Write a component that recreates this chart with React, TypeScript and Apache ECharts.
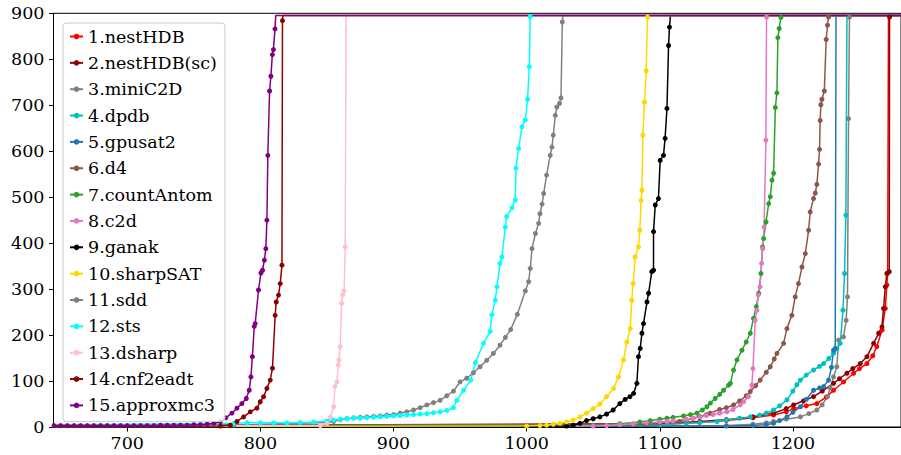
import React, { useEffect, useRef } from 'react';
import * as echarts from 'echarts';

const seriesNames = [
  '1.nestHDB', '2.nestHDB(sc)', '3.miniC2D', '4.dpdb', '5.gpusat2', '6.d4', '7.countAntom', '8.c2d',
  '9.ganak', '10.sharpSAT', '11.sdd', '12.sts', '13.dsharp', '14.cnf2eadt', '15.approxmc3',
];
const seriesColors = [
  '#ff0000', '#8b0000', '#808080', '#00bfbf', '#1f77b4', '#8c564b', '#2ca02c', '#e377c2',
  '#000000', '#ffd700', '#808080', '#00ffff', '#ffc0cb', '#8b0000', '#800080',
];
const xTicks = [700, 800, 900, 1000, 1100, 1200];
const TIMEOUT = 895;

const nestHDB = [[600, 2], [1100, 6], [1130, 10], [1150, 14], [1170, 20], [1185.5, 26], [1195, 33], [1200.5, 40], [1210, 46], [1218, 51], [1225, 65], [1230.5, 80], [1238, 98], [1245.6, 117], [1250, 127], [1255.6, 138], [1260, 155], [1263, 175], [1267, 211], [1269.4, 258], [1270.6, 309], [1271.2, 335], [1271.8, 895], [1290, 895]];
const nestHDBsc = [[600, 2], [1100, 7], [1130, 12], [1150, 16], [1170, 22], [1185.5, 30], [1195, 40], [1200.5, 48], [1208, 57], [1215.5, 66], [1222, 78], [1230.5, 95], [1235, 105], [1240.6, 117], [1245, 127], [1250.6, 138], [1255.6, 153], [1260.6, 182], [1264.4, 204], [1266.9, 218], [1268.1, 258], [1269.4, 305], [1270.6, 334], [1272.4, 338], [1272.6, 892], [1272.7, 895], [1290, 895]];
const miniC2D = [[600, 1], [1150, 3], [1170, 6], [1180, 9], [1185.5, 12], [1195, 17], [1205.6, 22], [1212, 29], [1218, 37], [1222, 48], [1226, 66], [1228, 85], [1230.5, 109], [1233, 131], [1234.3, 189], [1238, 196], [1240, 232], [1241, 283], [1241.8, 671], [1242.5, 892], [1242.7, 895], [1290, 895]];
const dpdb = [[600, 2], [1100, 5], [1120, 8], [1130, 10], [1143, 12], [1150, 15], [1160, 19], [1168, 22], [1175, 26], [1180, 30], [1185.5, 37], [1190, 46], [1195.5, 59], [1200, 78], [1203, 92], [1205.6, 102], [1210, 113], [1215.5, 124], [1220, 132], [1223, 138], [1227, 149], [1230.5, 160], [1233, 170], [1235.6, 182], [1237.6, 254], [1238.8, 334], [1239.8, 461], [1240.6, 895], [1290, 895]];
const gpusat2 = [[600, 1], [1150, 2], [1170, 3], [1180, 5], [1185.5, 8], [1190, 14], [1195.5, 22], [1200, 32], [1205.6, 44], [1210, 60], [1215.5, 80], [1220, 85], [1223, 88], [1226.8, 102], [1229, 130], [1230.5, 167], [1231.8, 171], [1232.4, 895], [1290, 895]];
const d4 = [[600, 2], [1080, 5], [1090, 7], [1100, 9], [1110, 11], [1115, 12], [1120, 15], [1125, 19], [1130, 23], [1135, 27], [1137.9, 30], [1145, 38], [1150, 42], [1155.4, 48], [1160, 57], [1165, 68], [1168, 77], [1172, 90], [1175.4, 102], [1180, 119], [1183, 131], [1186, 148], [1188, 160], [1193, 182], [1195.5, 214], [1199.2, 243], [1201.7, 283], [1204.2, 312], [1206.8, 348], [1209.3, 377], [1211.8, 428], [1213, 468], [1215.5, 497], [1216.8, 509], [1218, 528], [1219.3, 572], [1220, 604], [1220.5, 667], [1221, 701], [1221.8, 713], [1223.6, 731], [1225, 843], [1226, 874], [1226.8, 892], [1227, 895], [1290, 895]];
const countAntom = [[600, 2], [1050, 4], [1070, 7], [1085, 11], [1092.8, 14], [1100, 17], [1105.4, 19], [1110, 21], [1117.9, 24], [1123, 27], [1127.9, 30], [1132, 37], [1135.4, 44], [1138, 52], [1141.6, 62], [1145, 71], [1147.9, 80], [1151.7, 91], [1153, 95], [1155.4, 124], [1158, 146], [1161.7, 167], [1164.9, 185], [1168, 204], [1170.4, 236], [1172.5, 262], [1174.3, 291], [1176, 334], [1177.2, 392], [1178, 410], [1179.8, 446], [1181.8, 486], [1183, 501], [1184.3, 537], [1185.5, 552], [1186.8, 695], [1188, 727], [1188.7, 847], [1189.7, 867], [1191, 891], [1191.2, 895], [1290, 895]];
const c2d = [[600, 2], [1050, 2], [1060, 3], [1070, 5], [1080, 7], [1090, 9], [1100, 11], [1105.5, 12], [1110, 13], [1120, 17], [1125, 19], [1130.4, 22], [1135, 25], [1140, 27], [1145, 30], [1150.4, 33], [1155, 38], [1160.4, 48], [1163, 55], [1166.6, 66], [1169.2, 91], [1170, 127], [1171.7, 232], [1173, 254], [1174, 287], [1175.3, 305], [1176.5, 356], [1177.3, 388], [1178.4, 435], [1179.7, 624], [1180.2, 892], [1180.4, 895], [1290, 895]];
const ganak = [[600, 1], [1030, 2], [1035, 4], [1040, 8], [1045, 14], [1050, 18], [1055, 22], [1060, 28], [1065, 37], [1070, 51], [1074, 60], [1077.6, 66], [1080.3, 73], [1082.8, 95], [1084, 153], [1085.3, 171], [1086.6, 204], [1087.8, 225], [1090.4, 272], [1091.6, 291], [1094, 338], [1095.3, 341], [1095.3, 425], [1096.6, 483], [1099, 497], [1100.3, 580], [1102.8, 591], [1104, 628], [1105.4, 693], [1106.6, 830], [1107.3, 870], [1108, 895], [1290, 895]];
const sharpSAT = [[600, 1], [1000, 2], [1010, 3], [1015, 4], [1020, 6], [1025, 8], [1030, 11], [1035, 15], [1040, 22], [1045, 30], [1050, 40], [1055, 50], [1060, 66], [1065.3, 84], [1069, 109], [1072.8, 146], [1075.3, 185], [1077.8, 214], [1079, 276], [1080, 312], [1081.5, 370], [1084, 392], [1085, 428], [1086, 493], [1086.6, 515], [1087.3, 635], [1088.5, 707], [1089.8, 775], [1090.8, 892], [1091, 895], [1290, 895]];
const sdd = [[600, 2], [780, 4], [850, 10], [855, 12], [860, 16], [865, 18], [870, 20], [875, 21], [880, 22], [885, 23], [890, 24], [895, 26], [900, 27], [905, 30], [910, 33], [915, 37], [920, 42], [925, 48], [930, 53], [935, 58], [940, 68], [945, 78], [950, 98], [955, 106], [960, 118], [965, 131], [970, 145], [975, 160], [980, 178], [984, 195], [988, 212], [993, 245], [999, 296], [1001.5, 316], [1002.7, 345], [1004, 388], [1006.6, 421], [1009, 443], [1010, 464], [1011.6, 485], [1012.8, 508], [1015, 548], [1017.7, 591], [1019, 609], [1020, 635], [1021.5, 678], [1022.7, 696], [1024.7, 704], [1025.8, 716], [1026.8, 881], [1027.3, 895], [1290, 895]];
const sts = [[600, 3], [780, 8], [790, 9], [800, 9], [810, 9], [820, 9], [830, 10], [840, 11], [850, 13], [855, 15], [860, 17], [865, 18], [870, 19], [875, 19], [880, 20], [885, 21], [890, 22], [895, 23], [900, 24], [905, 25], [910, 26], [915, 27], [920, 28], [925, 29], [930, 31], [935, 33], [940, 36], [945, 42], [947.5, 58], [952.6, 80], [958, 102], [961.5, 140], [967.6, 182], [972.6, 208], [973.9, 244], [976.4, 276], [977.7, 305], [980, 356], [981.4, 370], [984, 435], [985, 458], [989, 477], [991.4, 494], [992, 563], [994, 606], [996.5, 653], [999, 668], [1000.7, 713], [1002, 784], [1002.7, 893], [1003, 895], [1290, 895]];
const dsharp = [[600, 1], [845, 3], [850, 8], [852.6, 22], [855, 44], [856, 88], [857.5, 98], [858.5, 135], [859, 146], [859.9, 175], [861, 269], [861.8, 287], [862.9, 296], [863.7, 392], [864.4, 895], [1290, 895]];
const cnf2eadt = [[600, 1], [770, 2], [777.4, 4], [782.4, 12], [787.4, 22], [792.4, 33], [797.4, 41], [799.9, 55], [802.4, 66], [804.9, 84], [807.4, 102], [809.1, 128], [811.1, 243], [811.9, 272], [813.6, 287], [814.9, 312], [816.2, 352], [816.6, 884], [816.8, 895], [1290, 895]];
const approxmc3 = [[600, 3], [645, 3], [650, 3], [655, 3], [660, 3], [665, 3], [670, 3], [675, 3], [680, 3], [685, 3], [690, 3], [695, 3], [700, 3], [705, 3], [710, 3], [715, 3], [720, 3], [725, 4], [730, 4], [735, 4], [740, 4], [745, 4], [750, 5], [755, 5], [760, 6], [765, 8], [770, 12], [774, 20], [778.6, 30], [782.4, 41], [786.1, 51], [789.4, 62], [791.6, 80], [792.9, 109], [794, 153], [795.4, 219], [796.1, 225], [798.6, 298], [800.4, 335], [801.6, 341], [803, 363], [804.1, 388], [804.9, 450], [805.6, 591], [806.9, 731], [807.9, 763], [809, 810], [809.8, 821], [811, 866], [811.5, 895], [1290, 895]];

const allSeries = [nestHDB, nestHDBsc, miniC2D, dpdb, gpusat2, d4, countAntom, c2d, ganak, sharpSAT, sdd, sts, dsharp, cnf2eadt, approxmc3];

const FONT = "'DejaVu Serif', 'Liberation Serif', serif";

export default function App() {
  const ref = useRef<HTMLDivElement>(null);
  useEffect(() => {
    const chart = echarts.init(ref.current as HTMLDivElement, null, { renderer: 'svg' });
    const series = allSeries.map((d, i) => ({
      name: seriesNames[i],
      type: 'line',
      data: d.map((p) => (p[1] >= TIMEOUT ? { value: p, symbol: 'none' } : p)),
      symbol: 'circle',
      symbolSize: 5,
      showSymbol: true,
      clip: true,
      lineStyle: { width: 1.5, color: seriesColors[i] },
      itemStyle: { color: seriesColors[i] },
      emphasis: { disabled: true },
    }));
    chart.setOption({
      animation: false,
      backgroundColor: '#ffffff',
      textStyle: { fontFamily: FONT },
      grid: {
        left: 53.5, top: 13.3, width: 847.5, height: 413.7,
        show: true, borderColor: '#000', borderWidth: 1, backgroundColor: 'transparent',
      },
      xAxis: {
        type: 'value', min: 644.6, max: 1281.2,
        axisLine: { show: true, lineStyle: { color: '#000', width: 1 } },
        axisTick: { show: true, length: 4.5, customValues: xTicks, lineStyle: { color: '#000' } },
        axisLabel: {
          customValues: xTicks, color: '#000', fontFamily: FONT, fontSize: 17.5, margin: 7,
          formatter: (v: number) => String(v),
        },
        splitLine: { show: false },
      },
      yAxis: {
        type: 'value', min: 0, max: 900, interval: 100,
        axisLine: { show: true, lineStyle: { color: '#000', width: 1 } },
        axisTick: { show: true, length: 4.5, lineStyle: { color: '#000' } },
        axisLabel: { color: '#000', fontFamily: FONT, fontSize: 17.5, margin: 9, formatter: (v: number) => String(v) },
        splitLine: { show: false },
      },
      legend: {
        orient: 'vertical', left: 63, top: 23,
        data: seriesNames,
        itemWidth: 13, itemHeight: 7, itemGap: 8.35,
        padding: [4.5, 8, 7, 6],
        backgroundColor: 'rgba(255,255,255,0.8)',
        borderColor: '#cccccc', borderWidth: 1, borderRadius: 3,
        textStyle: { fontFamily: FONT, fontSize: 17.5, lineHeight: 17.5, color: '#000' },
        selectedMode: false,
      },
      series,
    });
    return () => chart.dispose();
  }, []);
  return <div ref={ref} style={{ position: 'fixed', left: 0, top: 0, width: 901, height: 455 }} />;
}
